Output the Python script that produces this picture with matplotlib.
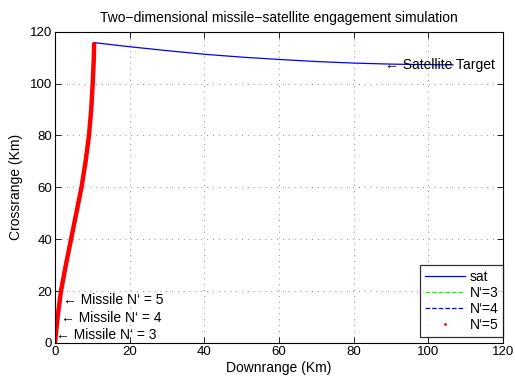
import matplotlib
matplotlib.use("Agg")
import matplotlib.pyplot as plt
from matplotlib.lines import Line2D

plt.rcParams['font.family'] = ['Liberation Sans', 'DejaVu Sans']

# Satellite trajectory (km)
sat_x = [10.4, 20, 30, 40, 50, 60, 70, 80, 90, 100, 106.6]
sat_y = [115.8, 114.2, 112.7, 111.3, 110.2, 109.3, 108.5, 107.9, 107.5, 107.3, 107.2]

# Missile trajectories (km)
mis_y = [0, 10, 20, 30, 40, 50, 60, 70, 80, 90, 100, 110, 115.8]
n3_x = [0, 0.7, 1.6, 2.9, 4.3, 5.7, 7.1, 8.2, 9.1, 9.7, 10.1, 10.4, 10.5]
n4_x = [0, 0.7, 1.6, 2.9, 4.3, 5.7, 7.1, 8.2, 9.1, 9.7, 10.1, 10.4, 10.5]
n5_x = [0, 0.7, 1.6, 2.9, 4.3, 5.7, 7.1, 8.2, 9.1, 9.7, 10.1, 10.4, 10.5]

x_ticks = [0, 20, 40, 60, 80, 100, 120]
y_ticks = [0, 20, 40, 60, 80, 100, 120]

fig = plt.figure(figsize=(5.15, 3.76), dpi=100)
ax = fig.add_axes([0.1068, 0.0878, 0.8699, 0.8279])

ax.plot(sat_x, sat_y, color='blue', lw=0.9)
ax.plot(n3_x, mis_y, color='lime', lw=0.9, ls='--')
ax.plot(n4_x, mis_y, color='blue', lw=0.9, ls='--')
ax.plot(n5_x, mis_y, color='red', lw=3.2, solid_capstyle='butt')

ax.set_xlim(0, 120)
ax.set_ylim(0, 120)
ax.set_xticks(x_ticks)
ax.set_yticks(y_ticks)
ax.tick_params(direction='in', top=True, right=True, labelsize=9.5, length=4, width=0.6, pad=2)
for s in ax.spines.values():
    s.set_linewidth(0.8)
ax.grid(True, ls=(0, (1, 6)), color='black', lw=0.6, alpha=0.6)

ax.set_title('Two\u2212dimensional missile\u2212satellite engagement simulation', fontsize=10, pad=7)
ax.set_xlabel('Downrange (Km)', fontsize=10, labelpad=2)
ax.set_ylabel('Crossrange (Km)', fontsize=10, labelpad=5)

tk = dict(fontsize=10, va='center', ha='left', color='black')
ax.text(88.5, 107.3, '\u2190 Satellite Target', **tk)
ax.text(0.3, 3.1, '\u2190 Missile N\u2018 = 3', **tk)
ax.text(1.5, 9.5, '\u2190 Missile N\u2018 = 4', **tk)
ax.text(2.1, 16.5, '\u2190 Missile N\u2018 = 5', **tk)

handles = [
    Line2D([], [], color='blue', lw=0.9),
    Line2D([], [], color='lime', lw=0.9, ls='--'),
    Line2D([], [], color='blue', lw=0.9, ls='--'),
    Line2D([], [], color='red', ls='none', marker='.', markersize=2),
]
leg = ax.legend(handles, ['sat', 'N\u2018=3', 'N\u2018=4', 'N\u2018=5'], loc='lower right',
                bbox_to_anchor=(1.0, 0.02), borderaxespad=0,
                fontsize=10, frameon=True, fancybox=False, edgecolor='black',
                handlelength=2.9, labelspacing=0.15, borderpad=0.35,
                handletextpad=0.3)
leg.get_frame().set_linewidth(0.9)

fig.savefig('out.png', dpi=100)
